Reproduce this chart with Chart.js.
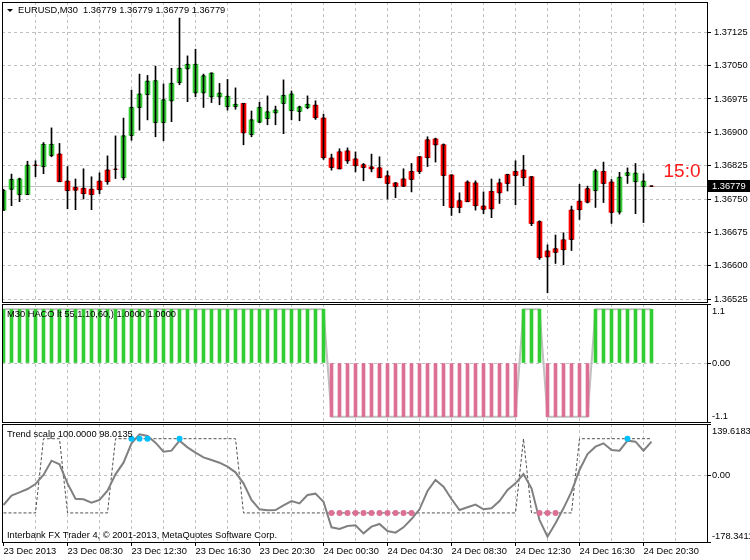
<!DOCTYPE html>
<html lang="en">
<head>
<meta charset="UTF-8" />
<title>EURUSD,M30</title>
<script src="https://cdn.jsdelivr.net/npm/chart.js"></script>
<style>
  body { margin: 0; background: #fff; }
  .wrap { position: relative; width: 750px; height: 560px; }
  .wrap canvas { position: absolute; left: 0; top: 0; }
</style>
</head>
<body>
<div class="wrap">
  <canvas id="price" width="750" height="560"></canvas>
  <canvas id="haco" width="750" height="560"></canvas>
  <canvas id="scalp" width="750" height="560"></canvas>
</div>
<script>
// ---- data (EURUSD M30, 23-24 Dec 2013) ----
const opens = [
  1.36725, 1.36772, 1.36760, 1.36760, 1.36826, 1.36823, 1.36848, 1.36851, 1.36790, 1.36776,
  1.36774, 1.36772, 1.36790, 1.36815, 1.36817, 1.36798, 1.36893, 1.36956, 1.36985, 1.36922,
  1.36922, 1.36971, 1.37012, 1.37043, 1.36989, 1.36989, 1.36980, 1.36980, 1.36958, 1.36958,
  1.36965, 1.36895, 1.36923, 1.36931, 1.36944, 1.36965, 1.36949, 1.36947, 1.36956, 1.36961,
  1.36932, 1.36842, 1.36856, 1.36858, 1.36840, 1.36827, 1.36822, 1.36820, 1.36802, 1.36786,
  1.36795, 1.36812, 1.36845, 1.36883, 1.36885, 1.36872, 1.36804, 1.36746, 1.36788, 1.36786,
  1.36734, 1.36767, 1.36786, 1.36805, 1.36812, 1.36815, 1.36800, 1.36699, 1.36633, 1.36638,
  1.36658, 1.36725, 1.36745, 1.36773, 1.36769, 1.36812, 1.36788, 1.36721, 1.36803, 1.36789,
  1.36778, 1.36779
];
const highs = [
  1.36772, 1.36806, 1.36797, 1.36835, 1.36836, 1.36877, 1.36910, 1.36875, 1.36823, 1.36795,
  1.36818, 1.36800, 1.36809, 1.36847, 1.36892, 1.36932, 1.36995, 1.37031, 1.37028, 1.37049,
  1.37009, 1.37044, 1.37157, 1.37072, 1.37087, 1.37031, 1.37034, 1.37010, 1.37019, 1.37000,
  1.36965, 1.36948, 1.36968, 1.36982, 1.36959, 1.37018, 1.36993, 1.36959, 1.36982, 1.36971,
  1.36941, 1.36851, 1.36863, 1.36865, 1.36856, 1.36830, 1.36851, 1.36845, 1.36813, 1.36787,
  1.36818, 1.36830, 1.36845, 1.36890, 1.36887, 1.36874, 1.36804, 1.36764, 1.36791, 1.36791,
  1.36766, 1.36795, 1.36795, 1.36806, 1.36836, 1.36848, 1.36800, 1.36701, 1.36647, 1.36669,
  1.36674, 1.36734, 1.36783, 1.36779, 1.36817, 1.36833, 1.36794, 1.36810, 1.36820, 1.36830,
  1.36807, 1.36779
];
const lows = [
  1.36725, 1.36735, 1.36744, 1.36760, 1.36800, 1.36807, 1.36845, 1.36789, 1.36728, 1.36726,
  1.36750, 1.36726, 1.36762, 1.36783, 1.36796, 1.36793, 1.36882, 1.36905, 1.36928, 1.36890,
  1.36881, 1.36924, 1.37007, 1.36969, 1.36980, 1.36956, 1.36967, 1.36962, 1.36950, 1.36952,
  1.36872, 1.36890, 1.36922, 1.36917, 1.36917, 1.36897, 1.36928, 1.36926, 1.36953, 1.36929,
  1.36839, 1.36815, 1.36818, 1.36830, 1.36811, 1.36791, 1.36811, 1.36798, 1.36750, 1.36753,
  1.36778, 1.36766, 1.36807, 1.36823, 1.36833, 1.36735, 1.36713, 1.36719, 1.36744, 1.36725,
  1.36717, 1.36708, 1.36740, 1.36768, 1.36737, 1.36780, 1.36690, 1.36614, 1.36539, 1.36605,
  1.36602, 1.36634, 1.36704, 1.36741, 1.36731, 1.36742, 1.36695, 1.36716, 1.36785, 1.36717,
  1.36697, 1.36779
];
const closes = [
  1.36769, 1.36794, 1.36795, 1.36826, 1.36826, 1.36873, 1.36873, 1.36789, 1.36769, 1.36770,
  1.36762, 1.36760, 1.36771, 1.36789, 1.36817, 1.36892, 1.36956, 1.36986, 1.37015, 1.37016,
  1.36973, 1.37010, 1.37044, 1.37053, 1.37053, 1.37027, 1.37033, 1.36988, 1.36981, 1.36963,
  1.36899, 1.36928, 1.36956, 1.36946, 1.36950, 1.36983, 1.36986, 1.36957, 1.36963, 1.36933,
  1.36843, 1.36821, 1.36818, 1.36836, 1.36825, 1.36821, 1.36818, 1.36798, 1.36785, 1.36778,
  1.36779, 1.36794, 1.36812, 1.36843, 1.36872, 1.36803, 1.36731, 1.36731, 1.36744, 1.36735,
  1.36727, 1.36728, 1.36764, 1.36785, 1.36803, 1.36798, 1.36695, 1.36618, 1.36620, 1.36630,
  1.36636, 1.36659, 1.36726, 1.36743, 1.36813, 1.36785, 1.36720, 1.36799, 1.36809, 1.36808,
  1.36790, 1.36779
];
const bid = 1.36779;

const haco = [
  1, 1, 1, 1, 1, 1, 1, 1, 1, 1, 1, 1, 1, 1, 1, 1, 1, 1, 1, 1,
  1, 1, 1, 1, 1, 1, 1, 1, 1, 1, 1, 1, 1, 1, 1, 1, 1, 1, 1, 1,
  1, -1, -1, -1, -1, -1, -1, -1, -1, -1, -1, -1, -1, -1, -1, -1, -1, -1, -1, -1,
  -1, -1, -1, -1, -1, 1, 1, 1, -1, -1, -1, -1, -1, -1, 1, 1, 1, 1, 1, 1,
  1, 1
];

const scalpLine = [
  -78.6, -53.5, -44.5, -35.5, -22.1, 2.2, 40.8, 30.9, -20.3, -61.6,
  -63.4, -72.4, -65.2, -40.0, 4.0, 35.4, 87.5, 111.8, 107.3, 89.3,
  65.1, 67.8, 94.7, 76.7, 62.4, 49.8, 42.6, 35.4, 24.7, 9.4,
  -20.3, -65.2, -90.3, -93.0, -92.1, -79.5, -67.9, -74.2, -51.7, -48.1,
  -69.7, -138.8, -143.3, -135.2, -133.4, -155.0, -137.0, -129.8, -148.7, -153.2,
  -138.8, -116.4, -90.3, -40.9, -11.3, -29.2, -62.5, -92.1, -84.9, -77.7,
  -90.3, -87.6, -67.9, -38.2, -20.3, 4.9, -33.7, -119.1, -164.0, -128.0,
  -87.6, -42.7, 15.7, 58.8, 78.5, 87.5, 69.6, 67.8, 94.7, 92.0,
  67.8, 92.0
];
const scalpSignal = [
  -100, -100, -100, -100, -100, 100, 100, 100, -100, -100,
  -100, -100, -100, -100, 100, 100, 100, 100, 100, 100,
  100, 100, 100, 100, 100, 100, 100, 100, 100, 100,
  -100, -100, -100, -100, -100, -100, -100, -100, -100, -100,
  -100, -100, -100, -100, -100, -100, -100, -100, -100, -100,
  -100, -100, -100, -100, -100, -100, -100, -100, -100, -100,
  -100, -100, -100, -100, -100, 100, -100, -100, -100, -100,
  -100, -100, 100, 100, 100, 100, 100, 100, 100, 100,
  100, 100
];
const buyIdx = [16, 17, 18, 22, 78];
const sellIdx = [41, 42, 43, 44, 45, 46, 47, 48, 49, 50, 51, 67, 68, 69];

const priceTicks = [1.36525, 1.36600, 1.36675, 1.36750, 1.36825, 1.36900, 1.36975, 1.37050, 1.37125];
const hacoTicks = [-1.1, 0, 1.1];
const hacoTickText = ['-1.1', '0.00', '1.1'];
const scalpTicks = [-178.3411, 0, 139.6183];
const scalpTickText = ['-178.3411', '0.00', '139.6183'];
const xGrid = [0, 4, 8, 12, 16, 20, 24, 28, 32, 36, 40, 44, 48, 52, 56, 60, 64, 68, 72, 76, 80, 84];
const timeIdx = [0, 8, 16, 24, 32, 40, 48, 56, 64, 72, 80];
const timeLabels = ['23 Dec 2013', '23 Dec 08:30', '23 Dec 12:30', '23 Dec 16:30', '23 Dec 20:30',
  '24 Dec 00:30', '24 Dec 04:30', '24 Dec 08:30', '24 Dec 12:30', '24 Dec 16:30', '24 Dec 20:30'];

// ---- look ----
const FAMILY = '"Liberation Sans", Arial, sans-serif';
const FONT = { family: FAMILY, size: 9.3 };
const GRID = '#c0c0c0';
const NONE = 'rgba(0,0,0,0)';
const AXIS_W = 43;
const X_MIN = -0.1875, X_MAX = 87.9375;
const GREEN = '#32cd32', RED = '#ff0000', PINK = '#db7093', BLUE = '#00bfff';

function text(ctx, str, x, y, size, color) {
  ctx.save();
  ctx.font = (size || 9.3) + 'px ' + FAMILY;
  ctx.fillStyle = color || '#000';
  ctx.textAlign = 'left';
  ctx.textBaseline = 'middle';
  ctx.fillText(str, x, y);
  ctx.restore();
}

// dotted grid (MT4 style) drawn from the scales' own ticks, plus the panel frame
const frame = {
  id: 'frame',
  beforeDatasetsDraw(chart, args, opts) {
    const { ctx, chartArea: a, scales: { x, y } } = chart;
    ctx.save();
    ctx.strokeStyle = GRID;
    ctx.lineWidth = 1;
    ctx.setLineDash([3, 3]);
    ctx.beginPath();
    x.ticks.forEach(t => {
      if (t.value <= 0) return;
      const px = Math.round(x.getPixelForValue(t.value) - 0.5) + 0.5;
      ctx.moveTo(px, a.top); ctx.lineTo(px, a.bottom);
    });
    y.ticks.forEach(t => {
      if (!opts.allY && t.value !== 0) return;
      const py = Math.round(y.getPixelForValue(t.value) - 0.5) + 0.5;
      ctx.moveTo(a.left, py); ctx.lineTo(a.right, py);
    });
    ctx.stroke();
    ctx.restore();
  },
  afterDraw(chart) {
    const { ctx, chartArea: a } = chart;
    ctx.save();
    ctx.strokeStyle = '#000';
    ctx.lineWidth = 1;
    ctx.strokeRect(Math.round(a.left) + 0.5, Math.round(a.top) + 0.5,
      Math.round(a.right - a.left), Math.round(a.bottom - a.top));
    ctx.restore();
  }
};

function noPad(ax) {
  ax.paddingTop = 0; ax.paddingBottom = 0; ax.paddingLeft = 0; ax.paddingRight = 0;
}

function xAxis(showLabels) {
  return {
    type: 'linear', min: X_MIN, max: X_MAX, offset: false,
    afterBuildTicks: ax => { ax.ticks = xGrid.map(v => ({ value: v })); },
    afterFit: ax => { ax.height = showLabels ? 18 : 0; noPad(ax); },
    border: { display: false },
    grid: {
      offset: false,
      drawOnChartArea: false,
      drawTicks: showLabels,
      tickLength: 4,
      tickColor: c => (c.tick && timeIdx.includes(c.tick.value)) ? '#000' : NONE,
      tickBorderDash: []
    },
    ticks: {
      display: showLabels, autoSkip: false, maxRotation: 0, minRotation: 0,
      align: 'start', padding: 0, color: '#000', font: FONT,
      callback: v => { const k = timeIdx.indexOf(v); return k >= 0 ? timeLabels[k] : ''; }
    }
  };
}

function sideAxis(min, max, ticks, showLabels) {
  return {
    position: 'right', min: min, max: max,
    afterBuildTicks: ax => { ax.ticks = ticks.map(v => ({ value: v })); },
    afterFit: ax => { ax.width = AXIS_W; noPad(ax); },
    border: { display: false },
    grid: { drawOnChartArea: false, tickLength: 4, tickColor: '#000', tickBorderDash: [] },
    ticks: {
      display: showLabels, padding: 3, color: '#000', font: FONT,
      callback: v => v.toFixed(5)
    }
  };
}

function sideLabels(ctx, a, scale, values, labels) {
  values.forEach((v, i) => {
    let py = scale.getPixelForValue(v);
    py = Math.min(Math.max(py, a.top + 7), a.bottom - 6);
    text(ctx, labels[i], a.right + 5, py);
  });
}

function options(padding, yScale, allY) {
  return {
    responsive: false,
    animation: false,
    events: [],
    layout: { autoPadding: false, padding: padding },
    plugins: { legend: { display: false }, tooltip: { enabled: false }, frame: { allY: allY } },
    scales: { x: xAxis(padding.bottom === 0), y: yScale }
  };
}

// ---- price panel ----
const last = closes.length - 1;
const priceTitle = 'EURUSD,M30  ' + [opens[last], highs[last], lows[last], closes[last]].map(v => v.toFixed(5)).join(' ');

const pricePanel = {
  id: 'pricePanel',
  beforeDatasetsDraw(chart) {
    const { ctx, chartArea: a, scales: { y } } = chart;
    const py = Math.round(y.getPixelForValue(bid)) + 0.5;
    ctx.save();
    ctx.strokeStyle = GRID;
    ctx.lineWidth = 1;
    ctx.beginPath(); ctx.moveTo(a.left, py); ctx.lineTo(a.right, py); ctx.stroke();
    ctx.restore();
  },
  afterDraw(chart) {
    const { ctx, chartArea: a, scales: { x, y } } = chart;
    ctx.save();
    ctx.fillStyle = '#000';
    ctx.beginPath();
    ctx.moveTo(a.left + 5, a.top + 7); ctx.lineTo(a.left + 11, a.top + 7); ctx.lineTo(a.left + 8, a.top + 10);
    ctx.closePath(); ctx.fill();
    ctx.restore();
    text(ctx, priceTitle, a.left + 16, a.top + 8.5);
    const py = y.getPixelForValue(bid);
    text(ctx, '15:0', x.getPixelForValue(last + 1.5), py - 14, 19, '#ff1a1a');
    ctx.save();
    ctx.fillStyle = '#000';
    ctx.fillRect(a.right + 1, Math.round(py) - 6, chart.width - a.right, 12);
    ctx.restore();
    text(ctx, bid.toFixed(5), a.right + 5, py, 9.3, '#fff');
  }
};

new Chart(document.getElementById('price'), {
  type: 'bar',
  data: {
    datasets: [
      {
        data: lows.map((l, i) => ({ x: i, y: [l, highs[i]] })),
        backgroundColor: '#000', barThickness: 1, grouped: false
      },
      {
        type: 'line', showLine: false,
        data: opens.map((o, i) => ({ x: i, y: o })),
        pointStyle: 'line', pointRadius: 1.5, pointBorderColor: '#000', pointBorderWidth: 1
      },
      {
        type: 'line', showLine: false,
        data: closes.map((c, i) => ({ x: i, y: c })),
        pointStyle: 'line', pointRadius: 1.5, pointBorderColor: '#000', pointBorderWidth: 1
      },
      {
        data: opens.map((o, i) => ({ x: i, y: [o, closes[i]] })),
        backgroundColor: c => closes[c.dataIndex] > opens[c.dataIndex] ? GREEN : RED,
        barThickness: 5, grouped: false
      }
    ]
  },
  options: options({ top: 2, left: 2, right: 0, bottom: 258 },
    sideAxis(1.365183, 1.371932, priceTicks, true), true),
  plugins: [frame, pricePanel]
});

// ---- HACO panel ----
const hacoPanel = {
  id: 'hacoPanel',
  afterDraw(chart) {
    const { ctx, chartArea: a, scales: { y } } = chart;
    text(ctx, 'M30 HACO lt 55,1.10,60,) 1.0000 1.0000', a.left + 5, a.top + 10);
    sideLabels(ctx, a, y, hacoTicks, hacoTickText);
  }
};

new Chart(document.getElementById('haco'), {
  type: 'bar',
  data: {
    datasets: [
      {
        data: haco.map((v, i) => ({ x: i, y: v })),
        backgroundColor: c => haco[c.dataIndex] > 0 ? GREEN : PINK,
        barThickness: 3, grouped: false
      },
      {
        type: 'line',
        data: haco.map((v, i) => ({ x: i, y: v })),
        borderColor: GRID, borderWidth: 2, pointRadius: 0, tension: 0
      }
    ]
  },
  options: options({ top: 304, left: 2, right: 0, bottom: 138 },
    sideAxis(-1.1, 1.1, hacoTicks, false), false),
  plugins: [frame, hacoPanel]
});

// ---- Trend scalp panel ----
const scalpPanel = {
  id: 'scalpPanel',
  afterDraw(chart) {
    const { ctx, chartArea: a, scales: { y } } = chart;
    text(ctx, 'Trend scalp 100.0000 98.0135', a.left + 5, a.top + 10);
    text(ctx, 'Interbank FX Trader 4, \u00a9 2001-2013, MetaQuotes Software Corp.', a.left + 5, a.bottom - 7);
    sideLabels(ctx, a, y, scalpTicks, scalpTickText);
  }
};

new Chart(document.getElementById('scalp'), {
  type: 'line',
  data: {
    datasets: [
      {
        showLine: false,
        data: buyIdx.map(i => ({ x: i, y: scalpSignal[i] })),
        pointRadius: 3, pointBorderWidth: 0, pointBackgroundColor: BLUE
      },
      {
        showLine: false,
        data: sellIdx.map(i => ({ x: i, y: scalpSignal[i] })),
        pointRadius: 3, pointBorderWidth: 0, pointBackgroundColor: PINK
      },
      {
        data: scalpLine.map((v, i) => ({ x: i, y: v })),
        borderColor: '#808080', borderWidth: 2, pointRadius: 0, tension: 0
      },
      {
        data: scalpSignal.map((v, i) => ({ x: i, y: v })),
        borderColor: '#505050', borderWidth: 1, borderDash: [3, 2], pointRadius: 0, tension: 0
      }
    ]
  },
  options: options({ top: 424, left: 2, right: 0, bottom: 0 },
    sideAxis(-178.3411, 139.6183, scalpTicks, false), false),
  plugins: [frame, scalpPanel]
});
</script>
</body>
</html>
